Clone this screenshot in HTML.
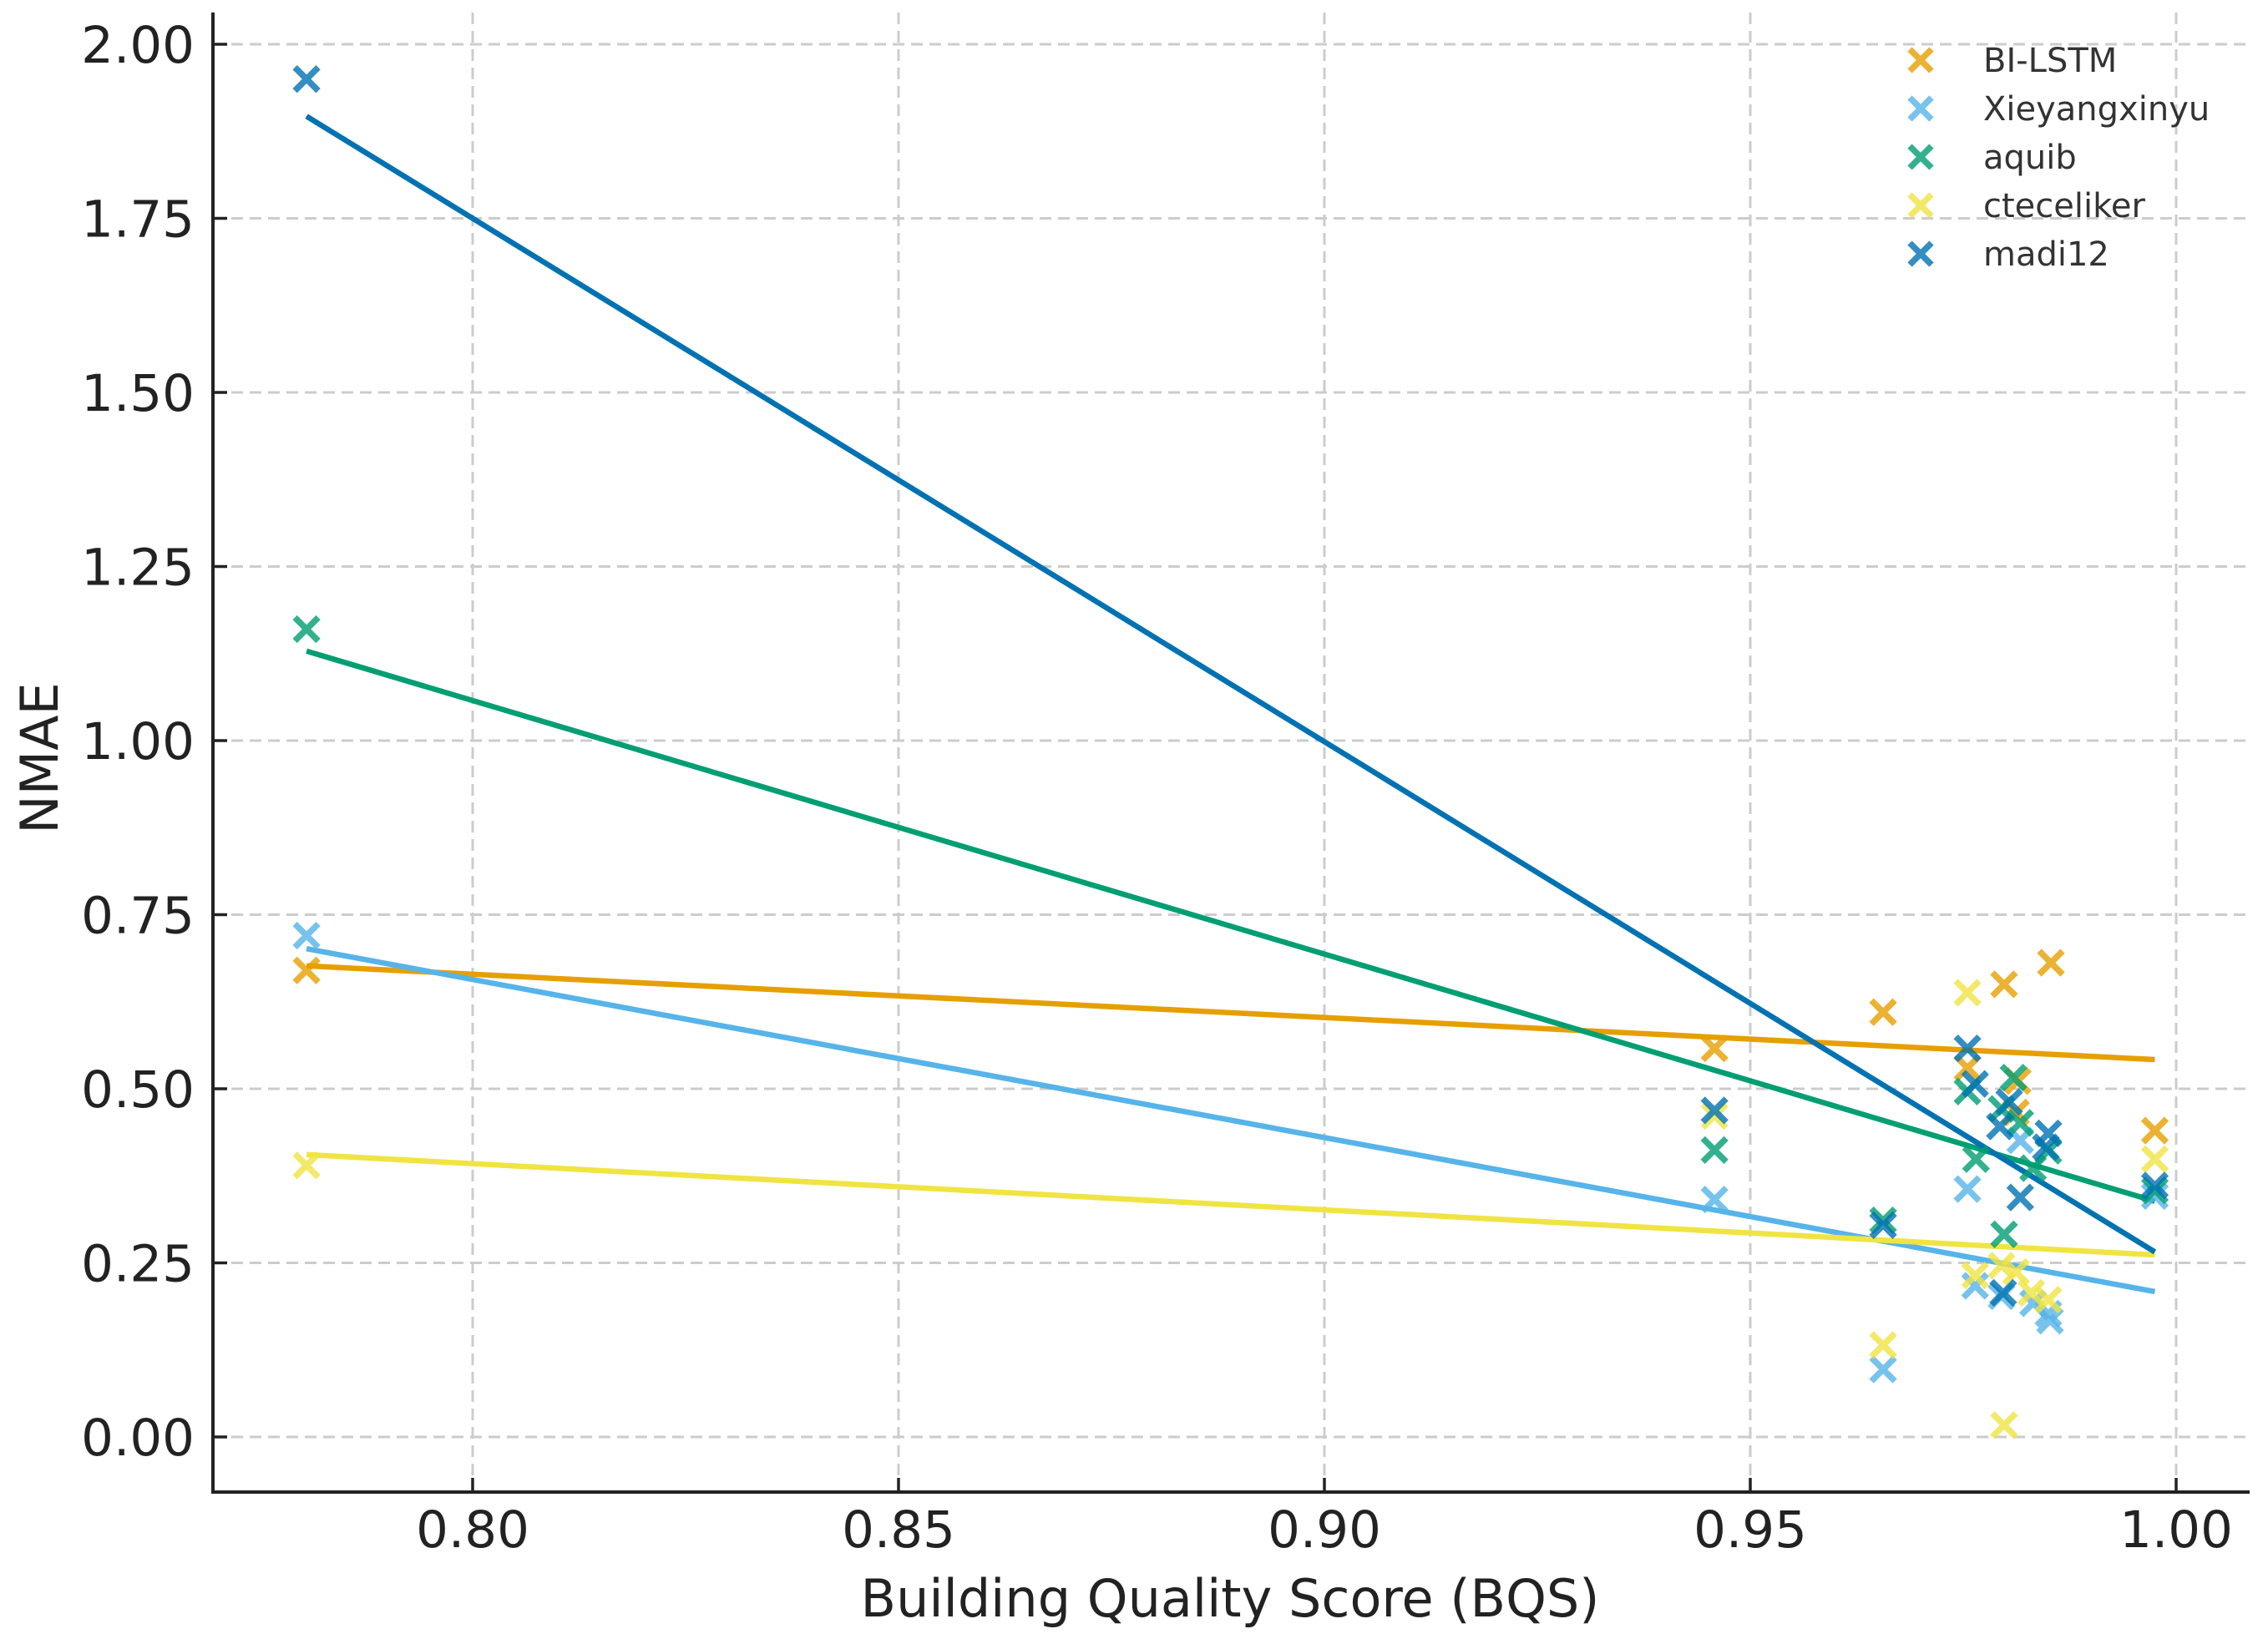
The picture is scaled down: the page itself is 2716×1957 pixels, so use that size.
<!DOCTYPE html>
<html><head><meta charset="utf-8"><style>
html,body{margin:0;padding:0;background:#fff;}
svg{display:block;}
text{font-family:"DejaVu Sans","Liberation Sans",sans-serif;}
</style></head><body>
<svg id="chart" xmlns="http://www.w3.org/2000/svg" width="2716" height="1957" viewBox="0 0 2716 1957">
<g id="grid"></g>
<g id="series"></g>
<g id="axes"></g>
<g id="legend"></g>
</svg>
<script>
const xTicks = [0.80, 0.85, 0.90, 0.95, 1.00];
const yTicks = [0.00, 0.25, 0.50, 0.75, 1.00, 1.25, 1.50, 1.75, 2.00];
const seriesNames = ["BI-LSTM", "Xieyangxinyu", "aquib", "cteceliker", "madi12"];
const seriesColors = ["#E69F00", "#56B4E9", "#009E73", "#F0E442", "#0072B2"];
const biX = [0.7805, 0.9458, 0.9656, 0.9755, 0.9798, 0.9853, 0.9814, 0.9812, 0.9975];
const biY = [0.67, 0.558, 0.610, 0.530, 0.650, 0.681, 0.511, 0.466, 0.440];
const xieX = [0.7805, 0.9458, 0.9656, 0.9755, 0.9764, 0.9817, 0.9795, 0.9832, 0.9852, 0.9850, 0.9975];
const xieY = [0.72, 0.341, 0.097, 0.356, 0.217, 0.426, 0.202, 0.192, 0.167, 0.177, 0.346];
const aqX = [0.7805, 0.9458, 0.9656, 0.9755, 0.9765, 0.9798, 0.9809, 0.9795, 0.9817, 0.9832, 0.9850, 0.9975];
const aqY = [1.16, 0.412, 0.311, 0.496, 0.399, 0.291, 0.516, 0.471, 0.451, 0.386, 0.411, 0.354];
const ctX = [0.7805, 0.9458, 0.9656, 0.9755, 0.9798, 0.9764, 0.9795, 0.9812, 0.9830, 0.9850, 0.9975];
const ctY = [0.39, 0.461, 0.132, 0.638, 0.017, 0.232, 0.246, 0.237, 0.207, 0.197, 0.399];
const madX = [0.7805, 0.9458, 0.9656, 0.9755, 0.9764, 0.9804, 0.9793, 0.9817, 0.9797, 0.9847, 0.9850, 0.9975];
const madY = [1.95, 0.469, 0.304, 0.558, 0.507, 0.481, 0.446, 0.344, 0.207, 0.416, 0.436, 0.361];

const NS = "http://www.w3.org/2000/svg";
const L = 255, R = 2694, T = 15, B = 1787;
function sx(v){ return 566 + (v - 0.80) * 10200; }
function sy(v){ return 1721 - v * 834; }
function mk(tag, attrs, parent){ const e = document.createElementNS(NS, tag); for (const k in attrs) e.setAttribute(k, attrs[k]); parent.appendChild(e); return e; }

const grid = document.getElementById('grid');
const axes = document.getElementById('axes');
const ser = document.getElementById('series');
const leg = document.getElementById('legend');

xTicks.forEach(t => {
  const x = sx(t);
  const g = mk('line', {x1:x, x2:x, y1:T, y2:B, stroke:'#cccccc', 'stroke-width':3, 'stroke-dasharray':'14,8'}, grid);
  
  
  const tk = mk('line', {x1:x, x2:x, y1:B, y2:B-17, stroke:'#222', 'stroke-width':3.5}, axes);
  
  
  const tx = mk('text', {x:x, y:1853, 'font-size':61, 'text-anchor':'middle', fill:'#222'}, axes);
  tx.textContent = t.toFixed(2);
  
  
});
yTicks.forEach(t => {
  const y = sy(t);
  const g = mk('line', {x1:L, x2:R, y1:y, y2:y, stroke:'#cccccc', 'stroke-width':3, 'stroke-dasharray':'14,8'}, grid);
  
  
  const tk = mk('line', {x1:L, x2:L+17, y1:y, y2:y, stroke:'#222', 'stroke-width':3.5}, axes);
  
  
  const tx = mk('text', {x:233, y:y+22, 'font-size':61, 'text-anchor':'end', fill:'#222'}, axes);
  tx.textContent = t.toFixed(2);
  
  
});
const sp1 = mk('line', {x1:L, x2:L, y1:T, y2:B+2, stroke:'#222', 'stroke-width':4}, axes);


const sp2 = mk('line', {x1:L-2, x2:R, y1:B, y2:B, stroke:'#222', 'stroke-width':4}, axes);


const xl = mk('text', {x:1473, y:1936, 'font-size':62, 'text-anchor':'middle', fill:'#222'}, axes);
xl.textContent = 'Building Quality Score (BQS)';


const yl = mk('text', {x:0, y:0, 'font-size':62, 'text-anchor':'middle', fill:'#222', transform:'translate(69,908) rotate(-90)'}, axes);
yl.textContent = 'NMAE';



function cross(cx, cy, color, parent, s){
  const d = `M${cx-s},${cy-s}L${cx+s},${cy+s}M${cx-s},${cy+s}L${cx+s},${cy-s}`;
  return mk('path', {d:d, stroke:color, 'stroke-width':7.5, 'stroke-opacity':0.8, fill:'none'}, parent);
}
function fit(xs, ys){
  const n = xs.length; let mx=0,my=0; for(let i=0;i<n;i++){mx+=xs[i];my+=ys[i];} mx/=n; my/=n;
  let sxy=0,sxx=0; for(let i=0;i<n;i++){sxy+=(xs[i]-mx)*(ys[i]-my); sxx+=(xs[i]-mx)**2;}
  const b = sxy/sxx; return [b, my - b*mx];
}
const allX = [biX, xieX, aqX, ctX, madX];
const allY = [biY, xieY, aqY, ctY, madY];
const lineG = mk('g', {}, ser);
const ptG = mk('g', {}, ser);
allX.forEach((xs, k) => {
  const ys = allY[k];
  const col = seriesColors[k];
  xs.forEach((v, i) => {
    const p = cross(sx(v), sy(ys[i]), col, ptG, 14);
    
    
  });
  const [b, a] = fit(xs, ys);
  const x0 = Math.min(...xs), x1 = Math.max(...xs);
  const ln = mk('line', {x1:sx(x0), y1:sy(a+b*x0), x2:sx(x1), y2:sy(a+b*x1), stroke:col, 'stroke-width':6.5}, lineG);
  
  
  const ly = 72 + k * 58;
  const lm = cross(2300, ly, col, leg, 13);
  
  
  const lt = mk('text', {x:2375, y:ly+14, 'font-size':40, fill:'#333'}, leg);
  lt.textContent = seriesNames[k];
  
  
});
</script>
</body></html>
